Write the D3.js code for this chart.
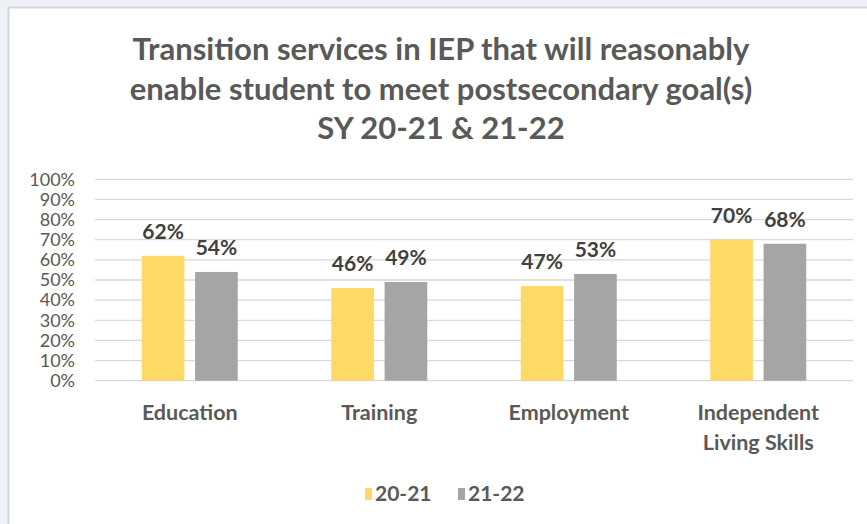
<!DOCTYPE html>
<html>
<head>
<meta charset="utf-8">
<script src="https://cdn.jsdelivr.net/npm/d3@7"></script>
<style>
  html, body { margin: 0; padding: 0; background: #eef2f7; }
  svg { display: block; }
</style>
</head>
<body>
<svg id="chart" width="867" height="524"></svg>
<script>
// Chart data
const categories = ["Education", "Training", "Employment", "Independent Living Skills"];
const categoryLines = [["Education"], ["Training"], ["Employment"], ["Independent", "Living Skills"]];
const seriesNames = ["20-21", "21-22"];
const values2021 = [62, 46, 47, 70];
const values2122 = [54, 49, 53, 68];
const yTicks = [0, 10, 20, 30, 40, 50, 60, 70, 80, 90, 100];
const titleLines = [
  "Transition services in IEP that will reasonably",
  "enable student to meet postsecondary goal(s)",
  "SY 20-21 & 21-22"
];
const colors = ["#FFD966", "#A5A5A5"];

const font = "Lato, 'Open Sans', sans-serif";
const svg = d3.select("#chart");

// White chart panel with a thin border
svg.append("rect")
  .attr("x", 8.5).attr("y", 7.5)
  .attr("width", 870).attr("height", 530)
  .attr("fill", "#ffffff")
  .attr("stroke", "#d4d6d9").attr("stroke-width", 2);

// Title
svg.append("g").selectAll("text")
  .data(titleLines)
  .join("text")
  .attr("x", 441)
  .attr("y", (d, i) => 60 + i * 39.5)
  .attr("text-anchor", "middle")
  .attr("font-family", font)
  .attr("font-weight", "bold")
  .attr("font-size", 31)
  .attr("fill", "#595959")
  .text(d => d);

const plot = { left: 95, right: 853, top: 179.3, bottom: 380.7 };

const x0 = d3.scaleBand()
  .domain(categories)
  .range([plot.left, plot.right])
  .paddingInner(0).paddingOuter(0);

const x1 = d3.scaleBand()
  .domain(seriesNames)
  .range([-48, 48])
  .paddingInner(0.2);

const y = d3.scaleLinear()
  .domain([0, 100])
  .range([plot.bottom, plot.top]);

// Gridlines
svg.append("g").selectAll("line")
  .data(yTicks)
  .join("line")
  .attr("x1", plot.left).attr("x2", plot.right)
  .attr("y1", d => y(d)).attr("y2", d => y(d))
  .attr("stroke", "#d9d9d9").attr("stroke-width", 1.3);

// Y axis labels
const yAxis = d3.axisLeft(y)
  .tickValues(yTicks)
  .tickFormat(d => d + "%")
  .tickSize(0)
  .tickPadding(0);
const yg = svg.append("g")
  .attr("transform", `translate(75,0)`)
  .call(yAxis);
yg.select(".domain").remove();
yg.selectAll("text")
  .attr("font-family", font)
  .attr("font-size", 18)
  .attr("fill", "#595959");

// Bars
const series = [values2021, values2122];
const rows = categories.map((c, i) => ({ cat: c, vals: series.map((s, k) => ({ name: seriesNames[k], v: s[i], k })) }));

const groups = svg.append("g").selectAll("g")
  .data(rows)
  .join("g")
  .attr("transform", d => `translate(${x0(d.cat) + x0.bandwidth() / 2},0)`);

groups.selectAll("rect")
  .data(d => d.vals)
  .join("rect")
  .attr("x", d => x1(d.name))
  .attr("width", x1.bandwidth())
  .attr("y", d => y(d.v))
  .attr("height", d => y(0) - y(d.v))
  .attr("fill", d => colors[d.k]);

// Value labels
groups.selectAll("text.val")
  .data(d => d.vals)
  .join("text")
  .attr("class", "val")
  .attr("x", d => x1(d.name) + x1.bandwidth() / 2)
  .attr("y", d => y(d.v) - 17)
  .attr("text-anchor", "middle")
  .attr("font-family", font)
  .attr("font-weight", "bold")
  .attr("font-size", 21)
  .attr("fill", "#404040")
  .text(d => d.v + "%");

// Category labels
const catG = svg.append("g").selectAll("text")
  .data(categories.map((c, i) => ({ c, lines: categoryLines[i] })))
  .join("text")
  .attr("x", d => x0(d.c) + x0.bandwidth() / 2)
  .attr("y", 420)
  .attr("text-anchor", "middle")
  .attr("font-family", font)
  .attr("font-weight", "bold")
  .attr("font-size", 21.5)
  .attr("fill", "#595959");
catG.selectAll("tspan")
  .data(d => d.lines.map(l => ({ l, x: x0(d.c) + x0.bandwidth() / 2 })))
  .join("tspan")
  .attr("x", d => d.x)
  .attr("dy", (d, i) => i === 0 ? 0 : 30)
  .text(d => d.l);

// Legend
const legendX = [365, 458];
const legend = svg.append("g").selectAll("g")
  .data(seriesNames)
  .join("g")
  .attr("transform", (d, i) => `translate(${legendX[i]},0)`);
legend.append("rect")
  .attr("x", 0).attr("y", 488)
  .attr("width", 7).attr("height", 12)
  .attr("fill", (d, i) => colors[i]);
legend.append("text")
  .attr("x", 10).attr("y", 501)
  .attr("font-family", font)
  .attr("font-weight", "bold")
  .attr("font-size", 21)
  .attr("fill", "#595959")
  .text(d => d);
</script>
</body>
</html>
